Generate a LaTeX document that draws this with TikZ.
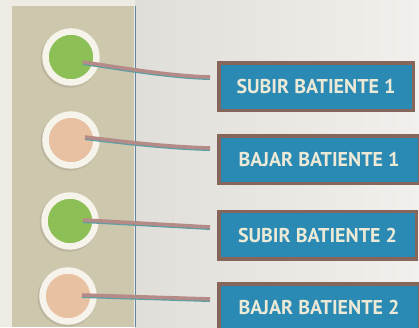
\documentclass[tikz,border=0pt]{standalone}
\usepackage{fontspec}
\setmainfont{PT Sans}
\usetikzlibrary{calc}

\definecolor{paper}{HTML}{EEEBE4}
\definecolor{wallL}{HTML}{E0DED8}
\definecolor{wallR}{HTML}{F1F0EC}
\definecolor{panel}{HTML}{CCC7AD}
\definecolor{divider}{HTML}{5F86A0}
\definecolor{ring}{HTML}{F6F3EA}
\definecolor{ringshade}{HTML}{A9A38E}
\definecolor{lampgreen}{HTML}{8CBF55}
\definecolor{lamppeach}{HTML}{E8C1A2}
\definecolor{btnfill}{HTML}{2A8AB4}
\definecolor{btnedge}{HTML}{86665A}
\definecolor{btntext}{HTML}{ECE9D6}
\definecolor{wirepink}{HTML}{B48B86}
\definecolor{wireteal}{HTML}{5B9EA6}

\tikzset{
  lamp/.style={circle, draw=ring, line width=6.5pt, minimum size=51pt, inner sep=0pt,
    preaction={draw=ringshade, line width=7.5pt, opacity=0.45,
      transform canvas={xshift=-1.2pt, yshift=-1.5pt}}},
  btn/.style={rectangle, fill=btnfill, draw=btnedge, line width=3.5pt,
    minimum height=47.5pt, inner sep=0pt, text=btntext,
    font=\fontsize{20}{20}\selectfont\bfseries},
  wire/.style={draw=wirepink, line width=3.6pt,
    preaction={draw=wireteal, line width=3.4pt, transform canvas={yshift=-1.3pt}}}
}

\begin{document}
\begin{tikzpicture}[x=1pt, y=-1pt]
  \useasboundingbox (0,0) rectangle (419,327);
  \clip (0,0) rectangle (419,327);

  % background: paper, wall on the right, beige panel on the left
  \fill[paper] (0,0) rectangle (419,327);
  \shade[left color=wallL, right color=wallR] (135,0) rectangle (419,327);
  \fill[panel] (12,6) rectangle (134,327);
  \draw[divider, line width=0.9pt] (135,6) -- (135,327);

  % indicator lamps
  \node[lamp, fill=lampgreen] (c1) at (71,57)  {};
  \node[lamp, fill=lamppeach] (c2) at (71,140) {};
  \node[lamp, fill=lampgreen] (c3) at (70,221) {};
  \node[lamp, fill=lamppeach] (c4) at (68,296) {};

  % push buttons
  \node[btn, minimum width=194.5pt] (b1) at (316,86.5)   {SUBIR BATIENTE 1};
  \node[btn, minimum width=200.5pt] (b2) at (319,159.5)  {BAJAR BATIENTE 1};
  \node[btn, minimum width=197.5pt] (b3) at (317.5,235)  {SUBIR BATIENTE 2};
  \node[btn, minimum width=200.5pt] (b4) at (319,307.5)  {BAJAR BATIENTE 2};

  % wires from each lamp to its button
  \draw[wire] ($(c1.center)+(12,5)$)  .. controls +(40,6) and +(-40,-1) .. ($(b1.west)+(-7,-9.5)$);
  \draw[wire] ($(c2.center)+(14,-3)$) .. controls +(40,5) and +(-40,-1) .. ($(b2.west)+(-7,-11.5)$);
  \draw[wire] ($(c3.center)+(13,-1)$) -- ($(b3.west)+(-7,-8)$);
  \draw[wire] ($(c4.center)+(14,-1)$) -- ($(b4.west)+(-7,-8.5)$);
\end{tikzpicture}
\end{document}
